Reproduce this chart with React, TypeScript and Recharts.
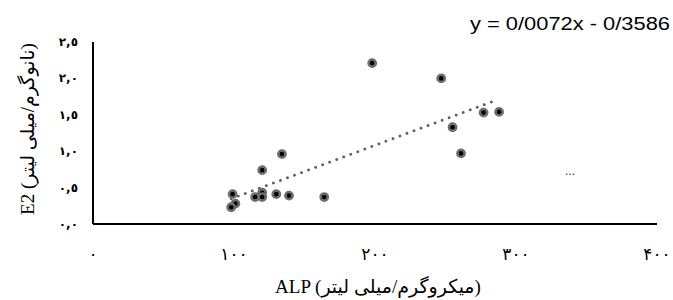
import React from "react"
import { ScatterChart, Scatter, XAxis, YAxis } from "recharts"

// ALP vs E2 data points
const alpValues = [198, 247, 277, 288, 255, 261, 134, 120, 99, 101, 98, 115, 120, 120, 130, 139, 164]
const e2Values = [2.21, 2.0, 1.53, 1.54, 1.33, 0.97, 0.96, 0.74, 0.41, 0.28, 0.23, 0.37, 0.43, 0.37, 0.41, 0.39, 0.37]

const xTicks = [0, 100, 200, 300, 400]
const xTickLabels = ["٠", "١٠٠", "٢٠٠", "٣٠٠", "۴٠٠"]
const yTicks = [0, 0.5, 1, 1.5, 2, 2.5]
const yTickLabels = ["٠,٠", "٠,٥", "١,٠", "١,٥", "٢,٠", "٢,٥"]

const slope = 0.0072
const intercept = -0.3586
const trendX = [98, 285]

const points = alpValues.map((x, i) => ({ x, y: e2Values[i] }))
const trend = trendX.map((x) => ({ x, y: slope * x + intercept }))

const SERIF = "'Liberation Serif', 'DejaVu Sans', serif"

const Dot = (props: any) => {
  const { cx, cy } = props
  if (cx == null || cy == null) return <g />
  return <circle cx={cx} cy={cy} r={3.6} fill="#000" stroke="#6e6e6e" strokeWidth={2.6} />
}

const XTick = ({ x, y, payload }: any) => {
  const idx = xTicks.indexOf(payload.value)
  return (
    <text x={x} y={y + 36} textAnchor="middle" fontSize={17} letterSpacing={2} fill="#000" fontFamily="'DejaVu Sans', sans-serif">
      {xTickLabels[idx]}
    </text>
  )
}

const YTick = ({ x, y, payload }: any) => {
  const idx = yTicks.indexOf(payload.value)
  return (
    <text x={x - 15} y={y + 4} textAnchor="end" fontSize={12} fontWeight="bold" fill="#000" fontFamily="'DejaVu Sans', sans-serif">
      {yTickLabels[idx]}
    </text>
  )
}

export default function App() {
  return (
    <div style={{ position: "absolute", left: 0, top: 0, width: 673, height: 300, background: "#fff" }}>
      <ScatterChart width={673} height={300} margin={{ top: 42, right: 16, bottom: 46, left: 33 }}>
        <XAxis
          type="number"
          dataKey="x"
          domain={[0, 400]}
          ticks={xTicks}
          tick={<XTick />}
          tickLine={false}
          tickSize={0}
          tickMargin={0}
          axisLine={{ stroke: "#000", strokeWidth: 2 }}
          height={30}
          interval={0}
        />
        <YAxis
          type="number"
          dataKey="y"
          domain={[0, 2.5]}
          ticks={yTicks}
          tick={<YTick />}
          tickLine={false}
          tickSize={0}
          tickMargin={0}
          axisLine={{ stroke: "#000", strokeWidth: 2 }}
          width={60}
          interval={0}
        />
        <Scatter
          data={trend}
          line={{ stroke: "#5f5f5f", strokeWidth: 2.8, strokeDasharray: "0.1 7.4", strokeLinecap: "round" }}
          shape={() => <g />}
          isAnimationActive={false}
        />
        <Scatter data={points} shape={<Dot />} isAnimationActive={false} />
      </ScatterChart>
      <svg width={673} height={300} style={{ position: "absolute", left: 0, top: 0, pointerEvents: "none" }}>
        <text x={470} y={30} fontSize={18} textLength={200} lengthAdjust="spacingAndGlyphs" fill="#000" fontFamily="'Liberation Sans', sans-serif">
          y = 0/0072x - 0/3586
        </text>
        <text x={570} y={175} fontSize={12} textAnchor="middle" fill="#333" fontFamily="'Liberation Sans', sans-serif">
          ...
        </text>
        <text x={378} y={293} fontSize={19} textAnchor="middle" fill="#000" fontFamily={SERIF}>
          ALP (میکروگرم/میلی لیتر)
        </text>
        <text
          x={0}
          y={0}
          fontSize={19}
          textAnchor="middle"
          fill="#000"
          fontFamily={SERIF}
          transform="translate(34, 129) rotate(-90)"
        >
          E2 (نانوگرم/میلی لیتر)
        </text>
      </svg>
    </div>
  )
}
